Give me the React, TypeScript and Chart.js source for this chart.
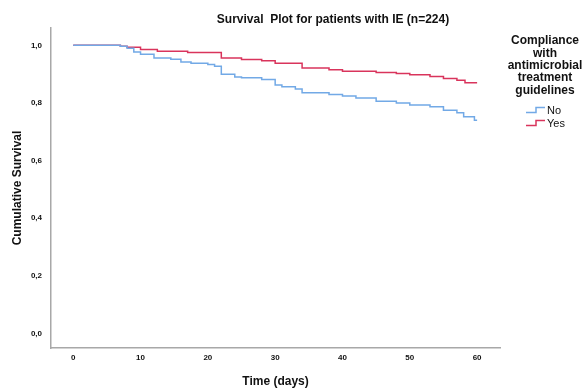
import React, { useEffect, useRef } from "react";
import { Chart, registerables } from "chart.js";

Chart.register(...registerables);

const chartTitle = "Survival  Plot for patients with IE (n=224)";
const legendTitle = ["Compliance", "with", "antimicrobial", "treatment", "guidelines"];
const xAxisTitle = "Time (days)";
const yAxisTitle = "Cumulative Survival";

const xTicks = [0, 10, 20, 30, 40, 50, 60];
const yTicks = [0, 0.2, 0.4, 0.6, 0.8, 1.0];

const noTimes = [0, 7, 8, 9, 10, 12, 14.5, 16, 17.5, 20, 21, 22, 24, 25, 28, 30, 31, 33, 34, 38, 40, 42, 45, 48, 50, 53, 55, 57, 58, 59.6, 60];
const noValues = [1.0, 0.997, 0.99, 0.977, 0.969, 0.956, 0.952, 0.942, 0.938, 0.933, 0.927, 0.9, 0.89, 0.887, 0.881, 0.862, 0.856, 0.848, 0.835, 0.829, 0.824, 0.817, 0.806, 0.8, 0.793, 0.787, 0.775, 0.766, 0.752, 0.74, 0.74];

const yesTimes = [0, 7, 8, 10, 12.5, 17, 22, 25, 28, 30, 34, 38, 40, 45, 48, 50, 53, 55, 57, 58.2, 60];
const yesValues = [1.0, 0.997, 0.993, 0.985, 0.979, 0.975, 0.956, 0.951, 0.946, 0.938, 0.921, 0.915, 0.91, 0.906, 0.902, 0.898, 0.892, 0.885, 0.879, 0.87, 0.87];

const seriesLabels = ["No", "Yes"];
const seriesColors = ["#72a9e6", "#d9345c"];

const FONT = "'Liberation Sans', Arial, sans-serif";

const textPlugin = {
  id: "customText",
  afterDraw(chart: any) {
    const ctx = chart.ctx;
    ctx.save();
    ctx.fillStyle = "#111";
    ctx.textAlign = "center";
    ctx.textBaseline = "middle";
    ctx.font = `bold 12px ${FONT}`;
    ctx.fillText(chartTitle, 333, 20);
    const lx = 545;
    legendTitle.forEach((line, i) => {
      ctx.fillText(line, lx, 41 + i * 12.3);
    });
    ctx.font = `11px ${FONT}`;
    ctx.textAlign = "left";
    chart.data.datasets.forEach((ds: any, i: number) => {
      const cy = 110 + i * 13;
      ctx.strokeStyle = ds.borderColor;
      ctx.lineWidth = 1.5;
      ctx.beginPath();
      ctx.moveTo(526, cy + 2.5);
      ctx.lineTo(536, cy + 2.5);
      ctx.lineTo(536, cy - 2.5);
      ctx.lineTo(545, cy - 2.5);
      ctx.stroke();
      ctx.fillStyle = "#111";
      ctx.fillText(ds.label, 547, cy + 0.5);
    });
    ctx.restore();
  },
};

export default function App() {
  const ref = useRef<HTMLCanvasElement | null>(null);
  useEffect(() => {
    document.body.style.margin = "0";
    const canvas = ref.current!;
    const mk = (times: number[], vals: number[]) => times.map((t, i) => ({ x: t, y: vals[i] }));
    const chart = new Chart(canvas, {
      type: "line",
      data: {
        datasets: [
          {
            label: seriesLabels[0],
            data: mk(noTimes, noValues),
            borderColor: seriesColors[0],
            borderWidth: 1.5,
            pointRadius: 0,
            stepped: true,
            fill: false,
          },
          {
            label: seriesLabels[1],
            data: mk(yesTimes, yesValues),
            borderColor: seriesColors[1],
            borderWidth: 1.5,
            pointRadius: 0,
            stepped: true,
            fill: false,
          },
        ],
      },
      options: {
        animation: false,
        responsive: false,
        layout: { padding: { top: 28, right: 84, bottom: 0, left: 0 } },
        plugins: { legend: { display: false }, title: { display: false }, tooltip: { enabled: false } },
        scales: {
          x: {
            type: "linear",
            min: -3.3,
            max: 63.4,
            grid: { display: false, drawTicks: false },
            border: { display: true, color: "#a8a8a8", width: 1.5 },
            afterBuildTicks: (s: any) => {
              s.ticks = xTicks.map((v) => ({ value: v }));
            },
            afterFit: (s: any) => {
              s.height = 43;
            },
            ticks: {
              padding: 5,
              color: "#111",
              font: { family: FONT, size: 8, weight: "bold" },
              callback: (v: any) => String(v),
            },
            title: {
              display: true,
              text: xAxisTitle,
              color: "#111",
              font: { family: FONT, size: 12, weight: "bold" },
              padding: { top: 0, bottom: 2 },
            },
          },
          y: {
            type: "linear",
            min: -0.05,
            max: 1.06,
            grid: { display: false, drawTicks: false },
            border: { display: true, color: "#a8a8a8", width: 1.5 },
            afterBuildTicks: (s: any) => {
              s.ticks = yTicks.map((v) => ({ value: v }));
            },
            afterFit: (s: any) => {
              s.width = 51;
            },
            ticks: {
              padding: 9,
              color: "#111",
              font: { family: FONT, size: 8, weight: "bold" },
              callback: (v: any) => Number(v).toFixed(1).replace(".", ","),
            },
            title: {
              display: true,
              text: yAxisTitle,
              color: "#111",
              font: { family: FONT, size: 12, weight: "bold" },
              padding: { top: 10, bottom: 0 },
            },
          },
        },
      },
      plugins: [textPlugin],
    } as any);
    return () => chart.destroy();
  }, []);
  return (
    <div style={{ width: 584, height: 391 }}>
      <canvas ref={ref} width={584} height={391} style={{ display: "block", width: 584, height: 391 }} />
    </div>
  );
}
